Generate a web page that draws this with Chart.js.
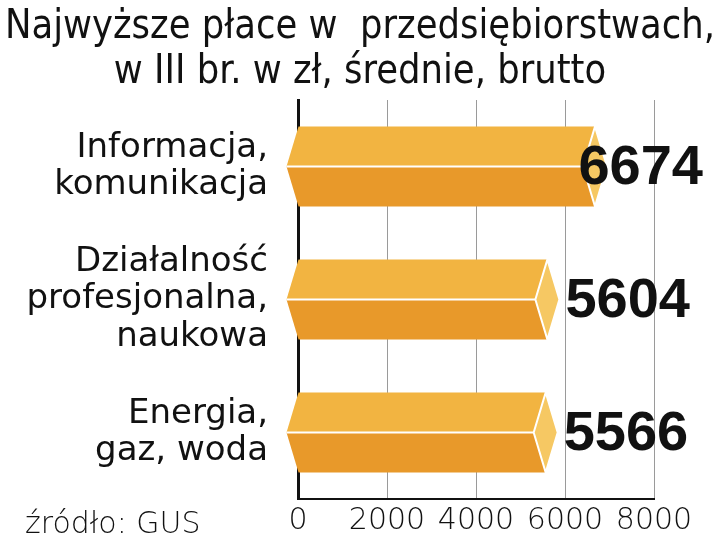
<!DOCTYPE html>
<html lang="pl">
<head>
    <meta charset="UTF-8">
    <title>Najwyższe płace w przedsiębiorstwach</title>
    <script src="https://cdn.jsdelivr.net/npm/chart.js"></script>
    <style>
        body {
            margin: 0;
            background: #ffffff;
        }
        .chart-box {
            position: relative;
            width: 720px;
            height: 542px;
        }
    </style>
</head>
<body>

    <div class="chart-box">
        <canvas id="wykres"></canvas>
    </div>

    <script>
        // dane z wykresu (GUS, III kw., zł brutto)
        const kategorie = [
            ["Informacja,", "komunikacja"],
            ["Działalność", "profesjonalna,", "naukowa"],
            ["Energia,", "gaz, woda"]
        ];
        const place = [6674, 5604, 5566];
        const tickiX = [0, 2000, 4000, 6000, 8000];
        const tytul = ["Najwyższe płace w  przedsiębiorstwach,", "w III br. w zł, średnie, brutto"];
        const zrodlo = "źródło: GUS";

        // słupki w stylu "ołówka": jasna góra, ciemny dół, szpic z lewej, romb na końcu
        const slupkiPlugin = {
            id: "slupki",
            afterDatasetsDraw(chart) {
                const ctx = chart.ctx;
                const meta = chart.getDatasetMeta(0);
                ctx.save();
                meta.data.forEach((el, i) => {
                    const x0 = el.base;
                    const xe = el.x;
                    const h = el.height;
                    const top = el.y - h / 2;
                    const bot = el.y + h / 2;
                    const mid = el.y;
                    const d = 12;

                    // górna ściana
                    ctx.beginPath();
                    ctx.moveTo(x0, top);
                    ctx.lineTo(xe, top);
                    ctx.lineTo(xe - d, mid);
                    ctx.lineTo(x0 - d, mid);
                    ctx.closePath();
                    ctx.fillStyle = "#f2b441";
                    ctx.fill();

                    // dolna ściana
                    ctx.beginPath();
                    ctx.moveTo(x0 - d, mid);
                    ctx.lineTo(xe - d, mid);
                    ctx.lineTo(xe, bot);
                    ctx.lineTo(x0, bot);
                    ctx.closePath();
                    ctx.fillStyle = "#e8992a";
                    ctx.fill();

                    // koniec (romb)
                    ctx.beginPath();
                    ctx.moveTo(xe, top);
                    ctx.lineTo(xe + d, mid);
                    ctx.lineTo(xe, bot);
                    ctx.lineTo(xe - d, mid);
                    ctx.closePath();
                    ctx.fillStyle = "#f6c863";
                    ctx.fill();
                    ctx.strokeStyle = "#ffffff";
                    ctx.lineWidth = 2;
                    ctx.stroke();

                    // biała linia środkowa
                    ctx.beginPath();
                    ctx.moveTo(x0 - d, mid);
                    ctx.lineTo(xe - d, mid);
                    ctx.stroke();

                    // wartość
                    const txt = String(place[i]);
                    ctx.font = "bold 56px 'Liberation Sans', Arial, sans-serif";
                    ctx.fillStyle = "#111111";
                    ctx.textBaseline = "middle";
                    ctx.textAlign = "left";
                    const w = ctx.measureText(txt).width;
                    const lx = Math.min(xe + d + 6, 703 - w);
                    ctx.fillText(txt, lx, mid + 2);
                });
                ctx.restore();
            },
            afterDraw(chart) {
                const ctx = chart.ctx;
                ctx.save();
                // tytuł na całą szerokość
                ctx.fillStyle = "#111111";
                ctx.textAlign = "center";
                ctx.textBaseline = "alphabetic";
                let size = 40;
                ctx.font = size + "px 'DejaVu Sans Condensed', 'DejaVu Sans', sans-serif";
                const szer = ctx.measureText(tytul[0]).width;
                ctx.save();
                ctx.translate(360, 0);
                ctx.scale(Math.min(1.15, 710 / szer), 1);
                ctx.fillText(tytul[0], 0, 38);
                ctx.fillText(tytul[1], 0, 83);
                ctx.restore();

                ctx.font = "200 30px 'DejaVu Sans', sans-serif";
                ctx.textAlign = "left";
                ctx.fillText(zrodlo, 25, 533);
                ctx.restore();
            }
        };

        const ctx = document.getElementById("wykres").getContext("2d");
        new Chart(ctx, {
            type: "bar",
            data: {
                labels: kategorie,
                datasets: [{
                    data: place,
                    backgroundColor: "rgba(0,0,0,0)",
                    borderWidth: 0,
                    barThickness: 80
                }]
            },
            options: {
                indexAxis: "y",
                responsive: true,
                maintainAspectRatio: false,
                animation: false,
                layout: {
                    padding: { left: 0, right: 66, top: 100, bottom: 0 }
                },
                plugins: {
                    legend: { display: false },
                    tooltip: { enabled: false },
                    title: { display: false }
                },
                scales: {
                    x: {
                        min: 0,
                        max: 8000,
                        afterBuildTicks(axis) {
                            axis.ticks = tickiX.map(v => ({ value: v }));
                        },
                        afterFit(axis) {
                            axis.height = 43;
                            axis.paddingLeft = 0;
                        },
                        grid: {
                            color: "#9a9a9a",
                            lineWidth: 1,
                            drawTicks: false
                        },
                        border: { display: true, color: "#111111", width: 2 },
                        ticks: {
                            color: "#111111",
                            padding: 4,
                            maxRotation: 0,
                            autoSkip: false,
                            callback: (v) => String(v),
                            font: { family: "'DejaVu Sans', sans-serif", size: 30, weight: 200 }
                        }
                    },
                    y: {
                        afterFit(axis) {
                            axis.width = 298;
                            axis.paddingTop = 0;
                            axis.paddingBottom = 0;
                        },
                        grid: { display: false, drawTicks: false },
                        border: { display: true, color: "#111111", width: 3 },
                        ticks: {
                            color: "#111111",
                            padding: 30,
                            font: { family: "'DejaVu Sans', sans-serif", size: 34, lineHeight: 1.1 }
                        }
                    }
                }
            },
            plugins: [slupkiPlugin]
        });
    </script>

</body>
</html>
